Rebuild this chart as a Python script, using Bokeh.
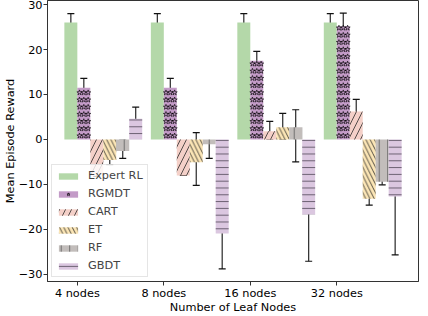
from bokeh.plotting import figure
from bokeh.models import (ColumnDataSource, Whisker, TeeHead, Legend, LegendItem,
                          FixedTicker, Range1d)
from bokeh.core.properties import value
from bokeh.embed import file_html
from bokeh.resources import INLINE

# ---- data ----
groups = ["4 nodes", "8 nodes", "16 nodes", "32 nodes"]
series = ["Expert RL", "RGMDT", "CART", "ET", "RF", "GBDT"]

expert_rl = [26.0, 26.0, 26.0, 26.0]
expert_rl_lo = [20.0, 20.0, 20.0, 20.0]
expert_rl_hi = [28.0, 28.0, 28.0, 28.0]

rgmdt = [11.5, 11.5, 17.5, 25.2]
rgmdt_lo = [9.5, 9.5, 15.4, 22.3]
rgmdt_hi = [13.6, 13.6, 19.6, 28.1]

cart = [-8.0, -8.0, 1.8, 6.2]
cart_lo = [-8.2, -8.0, 0.1, 4.2]
cart_hi = [-7.7, -7.6, 4.0, 8.9]

et = [-4.6, -5.1, 2.7, -13.2]
et_lo = [-5.6, -10.2, 0.1, -14.6]
et_hi = [-3.9, 1.5, 5.8, -12.3]

rf = [-2.6, -1.1, 2.7, -9.4]
rf_lo = [-4.2, -4.2, -5.0, -10.1]
rf_hi = [-0.2, -0.9, 6.6, -7.3]

gbdt = [4.6, -20.9, -16.7, -12.7]
gbdt_lo = [3.2, -28.8, -27.1, -25.7]
gbdt_hi = [7.2, -14.5, -7.5, -0.6]

yticks = [-30, -20, -10, 0, 10, 20, 30]

values = [expert_rl, rgmdt, cart, et, rf, gbdt]
lows = [expert_rl_lo, rgmdt_lo, cart_lo, et_lo, rf_lo, gbdt_lo]
highs = [expert_rl_hi, rgmdt_hi, cart_hi, et_hi, rf_hi, gbdt_hi]

# ---- style ----
FONT = "DejaVu Sans"
FS = "11.3px"
colors = ["#b4d8a9", "#c39bc7", "#f4d0c8", "#fbe5b5", "#c2bdbb", "#dbc7e0"]
hatch_colors = ["black", "black", "#222222", "#222222", "#555555", "#4a4050"]
patterns = [" ", "star", "/", "\\", "|", "-"]
hatch_scales = [8, 15, 12, 8.5, 8.5, 6.8]
width = 0.15

p = figure(width=420, height=316, output_backend="svg", toolbar_location=None,
           x_range=Range1d(-0.345, 3.945), y_range=Range1d(-31.6, 30.9),
           min_border_left=34, min_border_right=2, min_border_top=0, min_border_bottom=0)
p.xgrid.visible = False
p.ygrid.visible = False
p.outline_line_color = "#333333"
p.outline_line_width = 1

items = []
for k, name in enumerate(series):
    offset = -0.075 + k * width
    xs = [i + offset for i in range(len(groups))]
    src = ColumnDataSource(dict(x=xs, top=values[k]))
    kw = dict(x="x", top="top", bottom=0, width=width, source=src,
              fill_color=colors[k], line_color=None)
    if patterns[k] not in (" ", "star"):
        kw.update(hatch_pattern=value(patterns[k]), hatch_color=hatch_colors[k],
                  hatch_scale=hatch_scales[k], hatch_weight=0.9, hatch_alpha=0.85)
    r = p.vbar(**kw)
    renderers = [r]
    if patterns[k] == "star":
        # star hatch: a grid of small star outlines filling each bar (from its value)
        sx, sy = [], []
        col_offs = [-0.05, 0.0, 0.05]
        step = 1.6
        for xc, top in zip(xs, values[k]):
            n = int((abs(top) - 0.4) // step) + 1
            sgn = 1 if top >= 0 else -1
            for j in range(n):
                yy = sgn * (0.8 + j * step)
                if abs(yy) > abs(top) - 0.3:
                    continue
                for co in col_offs:
                    sx.append(xc + co)
                    sy.append(yy)
        sr = p.scatter(sx, sy, marker="star", size=5.5, fill_color=None,
                       line_color="black", line_width=0.7, line_alpha=0.9)
        renderers = [r, sr]
    items.append(LegendItem(label=name, renderers=renderers))

for k, name in enumerate(series):
    offset = -0.075 + k * width
    xs = [i + offset for i in range(len(groups))]
    src = ColumnDataSource(dict(x=xs, lo=lows[k], hi=highs[k]))
    w = Whisker(base="x", lower="lo", upper="hi", source=src,
                line_color="#111111", line_width=1.2, line_alpha=0.9,
                upper_head=TeeHead(size=7, line_color="#111111", line_width=1.2),
                lower_head=TeeHead(size=7, line_color="#111111", line_width=1.2))
    p.add_layout(w)

legend = Legend(items=items, location="bottom_left")
legend.label_text_font = FONT
legend.label_text_font_size = FS
legend.glyph_width = 24
legend.glyph_height = 8
legend.label_height = 12
legend.spacing = 5
legend.padding = 4
legend.margin = 4
legend.label_standoff = 8
legend.border_line_color = "#cccccc"
legend.border_line_width = 1
legend.background_fill_alpha = 0.8
p.add_layout(legend)

p.xaxis.ticker = FixedTicker(ticks=list(range(len(groups))))
p.xaxis.major_label_overrides = {i: g for i, g in enumerate(groups)}
p.yaxis.ticker = FixedTicker(ticks=yticks)
p.yaxis.major_label_overrides = {t: (str(t).replace("-", "\u2212")) for t in yticks}
p.xaxis.axis_label = "Number of Leaf Nodes"
p.yaxis.axis_label = "Mean Episode Reward"
for ax in (p.xaxis, p.yaxis):
    ax.minor_tick_line_color = None
    ax.major_tick_in = 0
    ax.major_tick_out = 4
    ax.major_tick_line_color = "#333333"
    ax.axis_line_color = "#333333"
    ax.major_label_text_font = FONT
    ax.major_label_text_font_size = FS
    ax.major_label_text_color = "black"
    ax.axis_label_text_font = FONT
    ax.axis_label_text_font_size = FS
    ax.axis_label_text_font_style = "normal"
    ax.axis_label_text_color = "black"
    ax.major_label_standoff = 1
p.xaxis.axis_label_standoff = -2
p.yaxis.axis_label_standoff = -1

open("out.html", "w").write(file_html(p, INLINE))
